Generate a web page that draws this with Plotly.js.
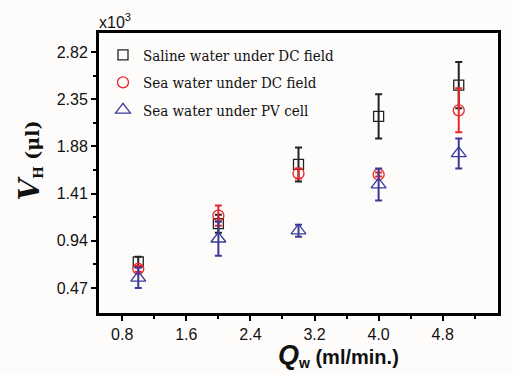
<!DOCTYPE html>
<html><head><meta charset="utf-8">
<script src="https://cdn.plot.ly/plotly-3.0.1.min.js"></script>
<style>html,body{margin:0;padding:0;background:#fdfcfb;}</style>
</head><body>
<div id="chart" style="width:513px;height:374px;"></div>
<script>
const flowRates = [1.0, 2.0, 3.0, 4.0, 5.0];
const salineDC = [0.73, 1.11, 1.70, 2.18, 2.49];
const salineDCErr = [0.05, 0.09, 0.17, 0.22, 0.23];
const seaDC = [0.66, 1.19, 1.61, 1.60, 2.24];
const seaDCErr = [0.03, 0.10, 0.05, 0.02, 0.22];
const seaPV = [0.57, 0.96, 1.04, 1.50, 1.81];
const seaPVErr = [0.10, 0.17, 0.06, 0.16, 0.15];
const seriesNames = ['Saline water under DC field', 'Sea water under DC field', 'Sea water under PV cell'];
const yTickVals = [0.47, 0.94, 1.41, 1.88, 2.35, 2.82];
const yTickText = ['0.47', '0.94', '1.41', '1.88', '2.35', '2.82'];
const xTickVals = [0.8, 1.6, 2.4, 3.2, 4.0, 4.8];
const xTickText = ['0.8', '1.6', '2.4', '3.2', '4.0', '4.8'];

const SERIF_LEG = 'DejaVu Serif Condensed, DejaVu Serif';
const SERIF = 'DejaVu Serif';
const SANS = 'Liberation Sans, Arial, sans-serif';

function mk(y, err, name, color, symbol, size, group) {
  return {
    x: flowRates, y: y, name: name, type: 'scatter', mode: 'markers',
    legendgroup: group,
    marker: {symbol: symbol, size: size, color: color, line: {color: color, width: 1.3}},
    error_y: {type: 'data', array: err, visible: true, color: color, thickness: 2, width: 3.5}
  };
}
const data = [
  mk(salineDC, salineDCErr, seriesNames[0], '#222222', 'square-open', 10, 'a'),
  mk(seaDC, seaDCErr, seriesNames[1], '#e8262a', 'circle-open', 11, 'b'),
  mk(seaPV, seaPVErr, seriesNames[2], '#3a3a9a', 'triangle-up-open', 13, 'c')
];
const layout = {
  width: 513, height: 374,
  margin: {l: 99, r: 15, t: 33, b: 61},
  paper_bgcolor: '#fdfcfb', plot_bgcolor: '#fdfcfb',
  showlegend: true,
  legend: {x: 0.01, y: 0.98, xanchor: 'left', yanchor: 'top', bgcolor: 'rgba(0,0,0,0)',
    font: {family: SERIF_LEG, size: 15, color: '#111'}, traceorder: 'grouped', tracegroupgap: 5},
  xaxis: {range: [0.51, 5.49], tickvals: xTickVals, ticktext: xTickText, showgrid: false, zeroline: false,
    showline: true, linecolor: '#000', linewidth: 3, mirror: true, ticks: 'outside', ticklen: 5, tickwidth: 2, tickcolor: '#000',
    tickfont: {family: SANS, size: 16, color: '#111'},
    minor: {tickvals: [1.2, 2.0, 2.8, 3.6, 4.4, 5.2], ticks: 'outside', ticklen: 3, tickwidth: 2, tickcolor: '#000'}},
  yaxis: {range: [0.22, 3.01], tickvals: yTickVals, ticktext: yTickText, showgrid: false, zeroline: false,
    showline: true, linecolor: '#000', linewidth: 3, mirror: true, ticks: 'outside', ticklen: 5, tickwidth: 2, tickcolor: '#000',
    tickfont: {family: SANS, size: 16, color: '#111'},
    minor: {tickvals: [0.705, 1.175, 1.645, 2.115, 2.585], ticks: 'outside', ticklen: 3, tickwidth: 2, tickcolor: '#000'}},
  annotations: [
    {xref: 'paper', yref: 'paper', x: -0.005, y: 1.0, xanchor: 'left', yanchor: 'bottom', showarrow: false,
     text: 'x10<sup>3</sup>', font: {family: SANS, size: 16, color: '#111'}},
    {xref: 'paper', yref: 'paper', x: -0.175, y: 0.545, xanchor: 'center', yanchor: 'middle', showarrow: false, textangle: -90,
     text: '<b><i><span style="font-size:28px">V</span></i></b><sub><b>H</b></sub><b> (μl)</b>',
     font: {family: SERIF, size: 19, color: '#111'}},
    {xref: 'paper', yref: 'paper', x: 0.6, y: -0.15, xanchor: 'center', yanchor: 'middle', showarrow: false,
     text: '<b><i><span style="font-size:27px">Q</span></i></b><sub><b>w</b></sub><b> (ml/min.)</b>',
     font: {family: SANS, size: 20, color: '#111'}}
  ]
};
Plotly.newPlot('chart', data, layout, {displayModeBar: false, staticPlot: true});
</script>
</body></html>
